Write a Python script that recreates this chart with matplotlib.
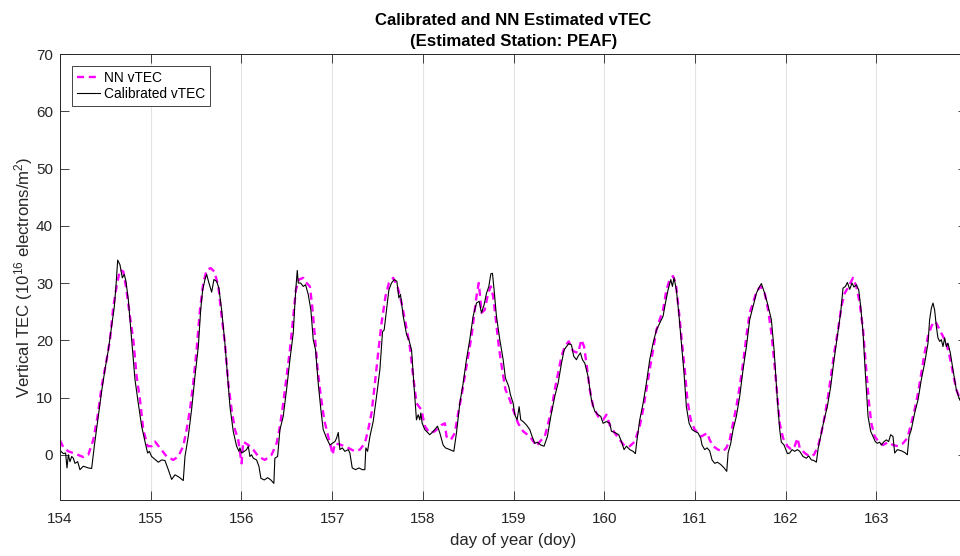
import numpy as np
import matplotlib
matplotlib.use("Agg")
import matplotlib.pyplot as plt

plt.rcParams['font.family'] = ['Liberation Sans', 'DejaVu Sans']
plt.rcParams['mathtext.default'] = 'regular'

# calibrated vTEC (black line)
cal_doy = [
    154.011, 154.037, 154.062, 154.077, 154.092, 154.110, 154.129, 154.147, 154.165, 154.195,
    154.220, 154.257, 154.312, 154.349, 154.378, 154.422, 154.459, 154.496, 154.533, 154.569,
    154.599, 154.617, 154.636, 154.661, 154.687, 154.709, 154.727, 154.753, 154.790, 154.827,
    154.863, 154.900, 154.937, 154.966, 154.985,
    155.010, 155.047, 155.084, 155.121, 155.157, 155.194, 155.231, 155.268, 155.312, 155.359,
    155.378, 155.414, 155.451, 155.488, 155.525, 155.551, 155.573, 155.598, 155.617, 155.642,
    155.672, 155.697, 155.727, 155.752, 155.782, 155.818, 155.848, 155.874, 155.910, 155.947,
    155.973, 155.984,
    156.002, 156.032, 156.057, 156.076, 156.094, 156.112, 156.131, 156.167, 156.193, 156.215,
    156.252, 156.289, 156.325, 156.358, 156.369, 156.399, 156.425, 156.461, 156.498, 156.535,
    156.572, 156.590, 156.605, 156.616, 156.627, 156.652, 156.682, 156.707, 156.737, 156.766,
    156.792, 156.818, 156.847, 156.876, 156.902, 156.939, 156.976,
    157.002, 157.031, 157.049, 157.068, 157.086, 157.112, 157.141, 157.178, 157.196, 157.222,
    157.259, 157.296, 157.332, 157.361, 157.372, 157.391, 157.417, 157.453, 157.490, 157.527,
    157.556, 157.574, 157.600, 157.626, 157.655, 157.685, 157.714, 157.736, 157.754, 157.784,
    157.821, 157.846, 157.876, 157.901, 157.930, 157.949, 157.967, 157.978, 157.993,
    158.022, 158.059, 158.077, 158.103, 158.132, 158.162, 158.188, 158.224, 158.250, 158.298,
    158.342, 158.371, 158.408, 158.445, 158.481, 158.518, 158.555, 158.592, 158.621, 158.647,
    158.676, 158.702, 158.728, 158.750, 158.768, 158.786, 158.812, 158.849, 158.886, 158.911,
    158.933, 158.948, 158.966, 158.996,
    159.014, 159.040, 159.062, 159.080, 159.106, 159.143, 159.179, 159.205, 159.235, 159.264,
    159.301, 159.337, 159.374, 159.411, 159.455, 159.492, 159.529, 159.558, 159.584, 159.609,
    159.639, 159.664, 159.694, 159.712, 159.738, 159.760, 159.786, 159.822, 159.859, 159.896,
    159.933, 159.962, 159.988,
    160.025, 160.061, 160.080, 160.116, 160.160, 160.190, 160.219, 160.245, 160.282, 160.318,
    160.344, 160.359, 160.392, 160.429, 160.465, 160.502, 160.539, 160.576, 160.612, 160.649,
    160.675, 160.704, 160.734, 160.752, 160.770, 160.796, 160.822, 160.851, 160.880, 160.906,
    160.936, 160.969, 160.998,
    161.035, 161.064, 161.079, 161.108, 161.134, 161.163, 161.189, 161.219, 161.248, 161.285,
    161.322, 161.351, 161.366, 161.395, 161.421, 161.457, 161.494, 161.531, 161.568, 161.604,
    161.641, 161.678, 161.703, 161.733, 161.763, 161.799, 161.843, 161.873, 161.909, 161.935,
    161.953, 161.983,
    162.020, 162.045, 162.071, 162.100, 162.130, 162.156, 162.192, 162.229, 162.255, 162.284,
    162.313, 162.339, 162.358, 162.387, 162.424, 162.460, 162.497, 162.534, 162.571, 162.607,
    162.633, 162.659, 162.681, 162.707, 162.732, 162.754, 162.780, 162.806, 162.828, 162.854,
    162.879, 162.909, 162.938, 162.964, 162.989,
    163.011, 163.037, 163.056, 163.085, 163.111, 163.136, 163.158, 163.184, 163.203, 163.232,
    163.276, 163.313, 163.342, 163.361, 163.386, 163.423, 163.460, 163.496, 163.533, 163.570,
    163.588, 163.607, 163.625, 163.643, 163.662, 163.680, 163.699, 163.717, 163.735, 163.754,
    163.772, 163.790, 163.816, 163.845, 163.882, 163.919, 163.950,
]
cal_tec = [
    0.6, 0.2, 0.3, -2.3, 0.0, -1.2, -0.3, -0.6, -1.5, -1.2,
    -2.6, -2.0, -2.3, -2.4, 1.5, 6.7, 11.1, 14.9, 18.3, 22.4,
    25.9, 29.4, 34.0, 33.2, 30.9, 31.5, 30.3, 27.1, 20.1, 13.1,
    9.0, 5.0, 2.3, 0.3, 0.6,
    -0.3, -0.8, -1.3, -0.9, -1.0, -2.6, -4.3, -3.5, -3.9, -4.5,
    -0.3, 3.2, 7.9, 13.7, 18.9, 25.3, 28.8, 30.6, 31.5, 30.0,
    28.4, 30.6, 30.3, 29.1, 25.3, 19.5, 13.7, 8.4, 4.1, 1.5,
    0.6, 1.2,
    0.3, 0.6, 0.9, 1.5, -0.3, 0.0, -0.6, -0.9, -2.0, -4.1,
    -4.4, -4.0, -4.4, -5.0, -0.6, -0.3, 4.4, 6.7, 11.4, 16.6,
    21.3, 26.5, 30.0, 32.2, 30.0, 30.0, 29.4, 29.7, 28.0, 25.3,
    20.1, 18.3, 12.5, 7.9, 4.4, 2.9, 1.7,
    2.0, 2.3, 2.9, 3.9, 0.9, 1.2, 0.6, 0.9, 0.3, -2.3,
    -2.6, -2.3, -2.6, -2.6, 1.2, 0.6, 3.2, 5.8, 10.2, 14.9,
    21.5, 21.8, 25.3, 28.8, 30.0, 30.6, 30.3, 27.4, 28.0, 24.2,
    21.0, 20.1, 18.3, 12.5, 6.1, 7.0, 6.1, 7.3, 5.5,
    4.4, 3.8, 3.5, 3.9, 4.4, 5.0, 3.8, 1.7, 1.2, 0.9,
    0.6, 3.8, 9.0, 12.5, 16.6, 20.1, 24.2, 26.5, 26.8, 24.8,
    26.2, 28.2, 29.4, 31.6, 31.7, 28.8, 24.2, 20.1, 16.6, 13.4,
    12.5, 11.9, 10.5, 9.0,
    7.0, 6.1, 8.4, 6.1, 5.8, 5.2, 4.4, 3.2, 2.0, 2.2,
    1.7, 1.5, 3.2, 6.7, 10.2, 12.5, 16.0, 18.3, 18.9, 19.4,
    19.2, 17.2, 16.6, 17.2, 17.8, 16.6, 16.0, 13.7, 9.6, 7.6,
    7.0, 6.7, 5.5,
    5.8, 5.5, 4.1, 3.9, 3.5, 2.3, 0.9, 1.5, 0.9, 0.6,
    0.2, 2.3, 6.1, 9.0, 12.5, 16.6, 19.5, 21.8, 23.0, 24.2,
    26.5, 28.8, 30.6, 29.4, 30.9, 28.8, 24.8, 19.5, 14.3, 8.4,
    5.5, 4.4, 4.1,
    3.8, 2.9, 1.7, 0.9, 1.2, 0.7, -0.9, -1.5, -1.3, -1.7,
    -2.3, -2.9, 0.3, 2.0, 4.4, 6.7, 10.2, 14.9, 18.9, 23.6,
    25.9, 28.2, 29.1, 29.9, 28.5, 26.5, 23.6, 18.3, 9.6, 4.4,
    2.2, 1.7,
    0.2, 0.3, 0.9, 0.6, 0.9, 0.6, -0.3, -0.6, -0.2, -0.9,
    -1.0, -1.3, 1.0, 3.2, 6.1, 8.4, 11.9, 16.6, 20.7, 24.8,
    29.1, 29.4, 30.1, 28.9, 30.0, 29.3, 29.7, 28.8, 25.9, 21.3,
    14.3, 6.7, 4.1, 3.2, 2.3,
    2.0, 2.2, 1.7, 2.3, 2.6, 2.3, 3.5, 3.2, 0.3, 0.9,
    0.7, 0.4, 0.0, 3.2, 4.4, 7.3, 9.6, 13.1, 16.0, 19.5,
    23.6, 25.6, 26.5, 25.3, 22.4, 20.4, 19.8, 20.1, 18.9, 20.4,
    18.9, 19.5, 17.8, 14.9, 11.4, 9.6, 9.0,
]

# NN estimated vTEC (magenta dashed line)
nn_doy = [
    154.000, 154.040, 154.092, 154.165, 154.257, 154.312, 154.367, 154.414, 154.459, 154.514,
    154.551, 154.588, 154.624, 154.661, 154.698, 154.727, 154.771, 154.808, 154.845, 154.882,
    154.918, 154.966,
    155.010, 155.047, 155.102, 155.176, 155.249, 155.304, 155.359, 155.396, 155.433, 155.469,
    155.506, 155.543, 155.580, 155.617, 155.661, 155.702, 155.746, 155.782, 155.818, 155.855,
    155.892, 155.929, 155.965,
    156.002, 156.020, 156.076, 156.131, 156.186, 156.259, 156.333, 156.388, 156.425, 156.461,
    156.498, 156.535, 156.572, 156.601, 156.634, 156.682, 156.719, 156.755, 156.781, 156.810,
    156.840, 156.876, 156.913, 156.957, 156.994,
    157.005, 157.031, 157.104, 157.178, 157.251, 157.306, 157.361, 157.398, 157.435, 157.472,
    157.508, 157.545, 157.589, 157.626, 157.674, 157.721, 157.766, 157.810, 157.857, 157.894,
    157.931, 157.968, 157.985,
    158.022, 158.077, 158.132, 158.206, 158.243, 158.261, 158.309, 158.353, 158.390, 158.426,
    158.463, 158.500, 158.537, 158.573, 158.592, 158.617, 158.632, 158.647, 158.683, 158.720,
    158.750, 158.775, 158.801, 158.838, 158.875, 158.911, 158.959, 158.996,
    159.051, 159.106, 159.179, 159.235, 159.253, 159.290, 159.345, 159.382, 159.419, 159.455,
    159.492, 159.529, 159.565, 159.609, 159.657, 159.712, 159.749, 159.778, 159.804, 159.841,
    159.878, 159.933, 159.988,
    160.025, 160.061, 160.116, 160.171, 160.227, 160.282, 160.337, 160.392, 160.429, 160.465,
    160.502, 160.539, 160.576, 160.612, 160.649, 160.686, 160.722, 160.759, 160.789, 160.822,
    160.858, 160.888, 160.917, 160.954, 160.998,
    161.072, 161.137, 161.163, 161.200, 161.255, 161.310, 161.347, 161.384, 161.421, 161.457,
    161.494, 161.531, 161.568, 161.604, 161.641, 161.678, 161.726, 161.770, 161.807, 161.843,
    161.880, 161.909, 161.935, 161.972,
    162.020, 162.064, 162.100, 162.130, 162.156, 162.211, 162.266, 162.313, 162.358, 162.394,
    162.431, 162.468, 162.505, 162.541, 162.578, 162.615, 162.651, 162.696, 162.743, 162.780,
    162.817, 162.854, 162.883, 162.916, 162.945, 162.982,
    163.026, 163.074, 163.129, 163.184, 163.239, 163.294, 163.342, 163.386, 163.423, 163.460,
    163.496, 163.533, 163.570, 163.607, 163.636, 163.662, 163.699, 163.735, 163.772, 163.808,
    163.845, 163.882, 163.919, 163.950,
]
nn_tec = [
    2.5, 1.2, 0.6, 0.2, -0.4, 0.0, 2.6, 6.7, 11.9, 16.6,
    20.1, 25.9, 29.4, 32.3, 32.0, 29.4, 24.2, 20.1, 13.7, 9.6,
    4.4, 1.5,
    1.5, 2.3, 1.2, -0.3, -0.9, -0.3, 1.5, 4.4, 7.9, 12.5,
    18.3, 25.3, 30.0, 32.3, 32.6, 32.0, 29.4, 24.2, 19.5, 12.5,
    7.9, 4.4, 2.6,
    -1.5, 2.3, 1.7, 0.9, -0.3, -0.9, 0.0, 2.0, 5.0, 9.0,
    13.7, 18.3, 24.2, 28.8, 30.6, 30.9, 30.0, 29.4, 25.9, 20.7,
    14.9, 10.2, 6.1, 3.2, 0.9,
    0.0, 2.0, 1.7, 1.2, 0.6, 0.9, 2.0, 4.4, 7.3, 12.5,
    17.8, 23.0, 27.7, 30.0, 30.9, 29.4, 26.5, 23.0, 18.9, 13.7,
    9.0, 8.2, 7.9,
    5.0, 3.8, 4.1, 5.2, 5.5, 3.2, 2.6, 3.8, 7.3, 10.2,
    13.7, 17.2, 20.7, 25.3, 27.7, 30.0, 27.7, 24.8, 25.3, 28.2,
    29.4, 27.7, 24.2, 18.9, 14.9, 11.4, 9.6, 7.9,
    5.5, 4.1, 3.2, 2.0, 1.5, 2.3, 3.2, 5.5, 7.9, 11.4,
    14.3, 17.2, 18.9, 19.8, 18.1, 17.8, 20.1, 18.9, 16.0, 11.4,
    8.4, 6.7, 6.1,
    7.0, 5.2, 3.8, 2.6, 1.5, 1.5, 2.3, 5.0, 7.9, 11.4,
    14.9, 18.3, 21.8, 23.6, 25.3, 28.8, 30.6, 31.2, 30.0, 25.3,
    19.5, 14.9, 9.6, 6.1, 4.4,
    3.2, 3.8, 2.6, 1.5, 0.9, 0.6, 1.2, 2.6, 5.5, 8.4,
    11.9, 16.0, 20.7, 24.8, 26.5, 28.5, 29.4, 28.2, 25.3, 21.3,
    15.4, 10.2, 5.5, 2.9,
    1.5, 0.9, 1.5, 2.9, 1.2, 0.3, -0.3, 0.0, 1.5, 3.8,
    6.7, 10.2, 14.3, 18.3, 21.8, 25.9, 28.2, 29.4, 30.9, 29.4,
    26.5, 21.8, 16.0, 9.6, 5.5, 3.2,
    2.3, 1.7, 2.2, 1.7, 1.5, 2.0, 2.9, 5.5, 7.9, 10.8,
    14.3, 17.8, 20.7, 22.4, 23.3, 23.0, 21.8, 20.7, 19.5, 17.2,
    14.3, 11.4, 9.9, 9.3,
]

x_ticks = [154, 155, 156, 157, 158, 159, 160, 161, 162, 163]
y_ticks = [0, 10, 20, 30, 40, 50, 60, 70]

fig = plt.figure(figsize=(9.6, 5.56), dpi=100)
ax = fig.add_axes([60 / 960, 1 - 500 / 556, 907 / 960, 446 / 556])

ax.plot(nn_doy, nn_tec, color='#ff00ff', lw=1.7, dashes=(3, 2), label='NN vTEC')
ax.plot(cal_doy, cal_tec, color='black', lw=0.8, label='Calibrated vTEC')

ax.set_xlim(154, 164)
ax.set_ylim(-7.9, 70)
ax.set_xticks(x_ticks)
ax.set_yticks(y_ticks)
ax.xaxis.grid(True, color='#e3e3e3', lw=0.8)
ax.set_axisbelow(True)

dark = '#262626'
for s in ax.spines.values():
    s.set_color(dark)
    s.set_linewidth(0.7)
ax.tick_params(direction='in', top=True, right=True, length=6.5, width=0.6,
               colors=dark, labelsize=11, pad=5)
ax.tick_params(axis='x', pad=8.5)

ax.set_xlabel('day of year (doy)', fontsize=12.1, color=dark, labelpad=5.5)
ax.set_ylabel('Vertical TEC (10$^{16}$ electrons/m$^2$)', fontsize=12.1, color=dark, labelpad=1)
ax.set_title('Calibrated and NN Estimated vTEC\n(Estimated Station: PEAF)',
             fontsize=12.1, fontweight='bold', color='black', pad=6, linespacing=1.45)

leg = ax.legend(loc='upper left', fontsize=9.9, fancybox=False, framealpha=1,
                edgecolor=dark, borderpad=0.35, handlelength=1.7, handletextpad=0.3,
                labelspacing=0.2, borderaxespad=0.85)
leg.get_frame().set_linewidth(0.6)

fig.savefig('out.png', dpi=100)
